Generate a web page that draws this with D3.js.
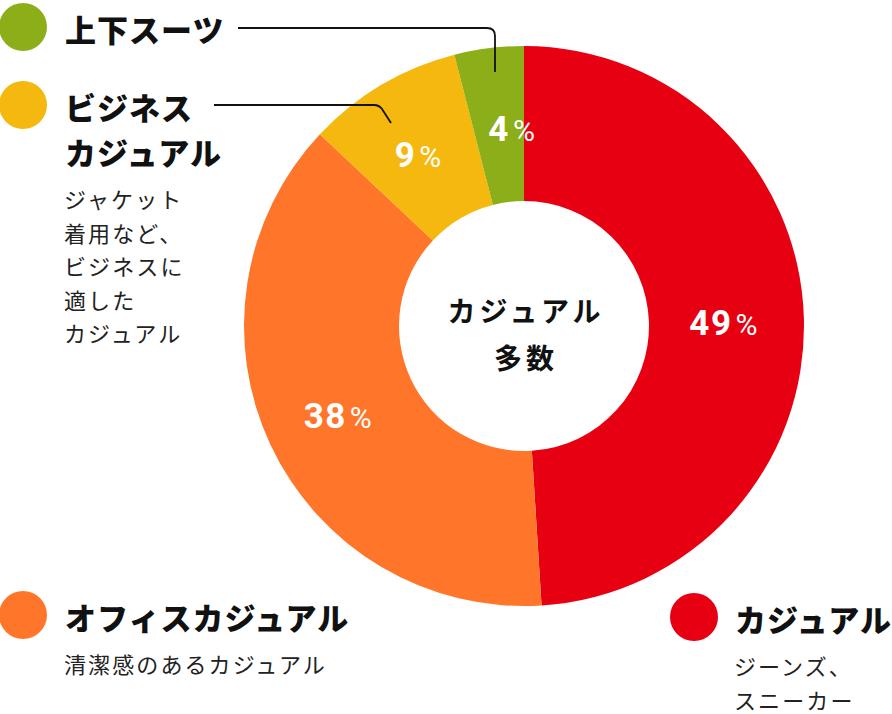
<!DOCTYPE html>
<html>
<head>
<meta charset="utf-8">
<script src="https://d3js.org/d3.v7.min.js"></script>
<style>
  html, body { margin: 0; padding: 0; background: #fff; }
  svg { display: block; font-family: "Noto Sans CJK JP", "Noto Sans", sans-serif; }
  .num { font-family: Roboto, "Liberation Sans", sans-serif; }
</style>
</head>
<body>
<div id="chart"></div>
<script>

// slices, clockwise from 12 o'clock
var categories = ['カジュアル', 'オフィスカジュアル', 'ビジネスカジュアル', '上下スーツ'];
var values = [49, 38, 9, 4];
var colors = ['#e60012', '#ff762b', '#f4b80f', '#8bae19'];

// legend texts
var titles = [['カジュアル'], ['オフィスカジュアル'], ['ビジネス', 'カジュアル'], ['上下スーツ']];
var notes = [['ジーンズ、', 'スニーカー'], ['清潔感のあるカジュアル'], ['ジャケット', '着用など、', 'ビジネスに', '適した', 'カジュアル'], []];
var centerText = ['カジュアル', '多数'];

var width = 892,
    height = 714,
    cx = 524,
    cy = 326,
    outerR = 280,
    innerR = 125;

// where each legend block sits (circle centre, text x)
var legendPos = [
    {x: 694, y: 617, tx: 735},
    {x: 23, y: 615, tx: 65},
    {x: 23, y: 105, tx: 65},
    {x: 23, y: 27, tx: 65}
];

var svg = d3.select('#chart').append('svg')
    .attr('width', width)
    .attr('height', height);

var pie = d3.pie().sort(null).value(function(d){ return d; });
var arc = d3.arc().innerRadius(innerR).outerRadius(outerR);
var arcs = pie(values);

var g = svg.append('g').attr('transform', 'translate(' + cx + ',' + cy + ')');

g.selectAll('path.slice')
    .data(arcs).enter()
    .append('path')
    .attr('class', 'slice')
    .attr('d', arc)
    .attr('fill', function(d, i){ return colors[i]; });

// percentage labels
var lbl = g.selectAll('text.pct')
    .data(arcs).enter()
    .append('text')
    .attr('class', 'pct num')
    .attr('transform', function(d, i){
        var c = arc.centroid(d);
        var dx = values[i] < 5 ? 13 : -3;   // narrow slice label sits a bit right
        return 'translate(' + (c[0] + dx) + ',' + (c[1] + 3) + ')';
    })
    .attr('text-anchor', 'middle')
    .attr('dy', '0.36em')
    .attr('fill', '#fff')
    .style('font-size', '35px');

lbl.append('tspan')
    .text(function(d){ return d.data; })
    .style('font-weight', 700)
    .style('letter-spacing', '1.5px');

lbl.append('tspan')
    .text('%')
    .attr('dx', 3)
    .style('font-weight', 400)
    .style('font-size', '30px');

// centre text
g.selectAll('text.center')
    .data(centerText).enter()
    .append('text')
    .attr('class', 'center')
    .attr('x', 2)
    .attr('y', function(d, i){ return -16 + i * 47; })
    .attr('text-anchor', 'middle')
    .attr('dominant-baseline', 'central')
    .style('font-size', '28px')
    .style('font-weight', 700)
    .style('letter-spacing', '4px')
    .attr('fill', '#111')
    .text(function(d){ return d; });

// legends
var leg = svg.selectAll('g.legend')
    .data(categories).enter()
    .append('g')
    .attr('class', 'legend');

leg.append('circle')
    .attr('cx', function(d, i){ return legendPos[i].x; })
    .attr('cy', function(d, i){ return legendPos[i].y; })
    .attr('r', 24)
    .attr('fill', function(d, i){ return colors[i]; });

leg.each(function(d, i){
    var p = legendPos[i];
    var sel = d3.select(this);
    titles[i].forEach(function(t, j){
        sel.append('text')
            .attr('x', p.tx)
            .attr('y', p.y + 1 + j * 45)
            .attr('dominant-baseline', 'central')
            .style('font-size', '31px')
            .style('font-weight', 900)
            .style('letter-spacing', '1px')
            .attr('fill', '#111')
            .text(t);
    });
    var top = p.y + (titles[i].length - 1) * 45 + 48;
    notes[i].forEach(function(t, j){
        sel.append('text')
            .attr('x', p.tx - 1)
            .attr('y', top + j * 33.5)
            .attr('dominant-baseline', 'central')
            .style('font-size', '22px')
            .style('font-weight', 400)
            .style('letter-spacing', '2.1px')
            .attr('fill', '#222')
            .text(t);
    });
});

// leader lines
svg.append('path')
    .attr('d', 'M238,28H487Q495,28 495,36V72')
    .attr('fill', 'none')
    .attr('stroke', '#111')
    .attr('stroke-width', 1.8);

svg.append('path')
    .attr('d', 'M214,105H374Q379,105 382,109L391,123')
    .attr('fill', 'none')
    .attr('stroke', '#111')
    .attr('stroke-width', 1.8);

</script>
</body>
</html>
